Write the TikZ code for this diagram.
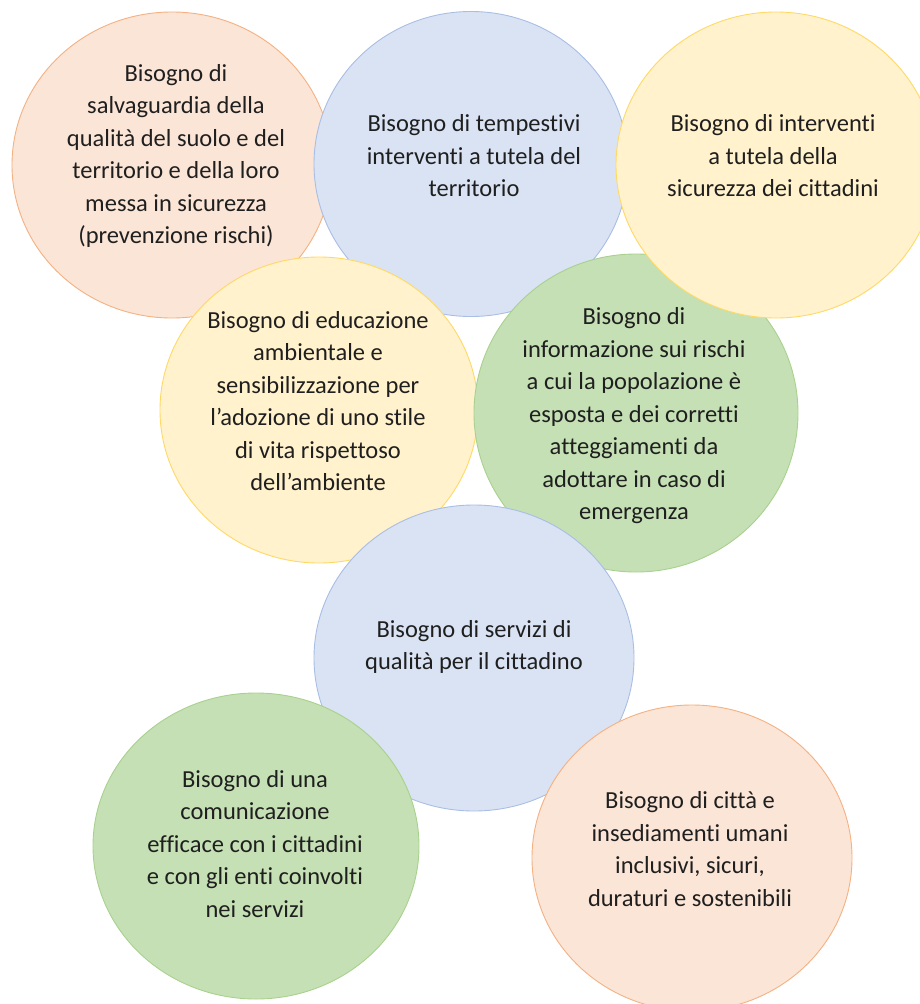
\documentclass[tikz,border=0pt]{standalone}
\usepackage{fontspec}
\setmainfont[Ligatures={NoCommon}]{Carlito}
\usepackage{xcolor}
\usetikzlibrary{shapes.geometric}
\definecolor{ink}{HTML}{1F1F1F}
\definecolor{peachfill}{HTML}{FBE5D6}
\definecolor{peachline}{HTML}{F4B183}
\definecolor{bluefill}{HTML}{DAE3F3}
\definecolor{blueline}{HTML}{A9BEE4}
\definecolor{yellowfill}{HTML}{FFF2CC}
\definecolor{yellowline}{HTML}{FFD966}
\definecolor{greenfill}{HTML}{C5E0B4}
\definecolor{greenline}{HTML}{A9D18E}
\tikzset{
  need/.style={
    ellipse,
    line width=0.9bp,
    inner sep=0pt,
    minimum width=320bp,
    minimum height=306bp
  },
  peach/.style={need, fill=peachfill, draw=peachline},
  bluebub/.style={need, fill=bluefill, draw=blueline},
  yellow/.style={need, fill=yellowfill, draw=yellowline},
  green/.style={need, fill=greenfill, draw=greenline},
  needtext/.style={
    text=ink,
    align=center,
    inner sep=0pt,
    font=\fontsize{24.5bp}{32.5bp}\selectfont
  }
}

\begin{document}
\begin{tikzpicture}[x=1bp, y=-1bp]

\useasboundingbox (0,0) rectangle (920,1004);

% ---------------------------------------------------------------------------
% Bubbles (drawn back to front)
% ---------------------------------------------------------------------------
\node[peach] (suolo) at (172,165) {};
\node[bluebub, minimum width=314bp, minimum height=305bp] (tempestivi) at (471,164) {};
\node[yellow, minimum width=318bp] (educazione) at (319,410) {};
\node[green, minimum width=324bp, minimum height=318bp] (informazione) at (636,413) {};
\node[yellow] (sicurezza) at (776,165) {};
\node[bluebub] (servizi) at (474,658) {};
\node[green, minimum width=326bp] (comunicazione) at (256,846) {};
\node[peach] (citta) at (692,858) {};

% ---------------------------------------------------------------------------
% Texts
% ---------------------------------------------------------------------------
\node[needtext] (suolotxt) at (176,156)
  {Bisogno di\\salvaguardia della\\qualità del suolo e del\\territorio e della loro\\messa in sicurezza\\(prevenzione rischi)};
\node[needtext] (tempestivitxt) at (474,156)
  {Bisogno di tempestivi\\interventi a tutela del\\territorio};
\node[needtext] (sicurezzatxt) at (773,156)
  {Bisogno di interventi\\a tutela della\\sicurezza dei cittadini};
\node[needtext] (educazionetxt) at (318,401)
  {Bisogno di educazione\\ambientale e\\sensibilizzazione per\\l’adozione di uno stile\\di vita rispettoso\\dell’ambiente};
\node[needtext] (informazionetxt) at (634,416)
  {Bisogno di\\informazione sui rischi\\a cui la popolazione è\\esposta e dei corretti\\atteggiamenti da\\adottare in caso di\\emergenza};
\node[needtext] (servizitxt) at (474,647)
  {Bisogno di servizi di\\qualità per il cittadino};
\node[needtext] (comunicazionetxt) at (255,844)
  {Bisogno di una\\comunicazione\\efficace con i cittadini\\e con gli enti coinvolti\\nei servizi};
\node[needtext] (cittatxt) at (690,849)
  {Bisogno di città e\\insediamenti umani\\inclusivi, sicuri,\\duraturi e sostenibili};

\end{tikzpicture}
\end{document}
